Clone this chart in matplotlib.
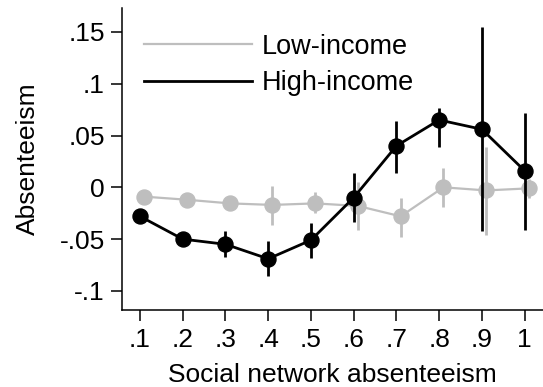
import numpy as np
import matplotlib
matplotlib.use("Agg")
import matplotlib.pyplot as plt

plt.rcParams["font.family"] = ["Liberation Sans", "DejaVu Sans"]

# Binned social network absenteeism (x) and mean own absenteeism with CI
x = np.array([0.1, 0.2, 0.3, 0.4, 0.5, 0.6, 0.7, 0.8, 0.9, 1.0])
xtick_labels = [".1", ".2", ".3", ".4", ".5", ".6", ".7", ".8", ".9", "1"]
yticks = [-0.1, -0.05, 0, 0.05, 0.1, 0.15]
ytick_labels = ["-.1", "-.05", "0", ".05", ".1", ".15"]

low_y = np.array([-0.009, -0.012, -0.0155, -0.017, -0.0155, -0.018, -0.028, 0.000, -0.003, -0.001])
low_lo = np.array([-0.013, -0.016, -0.019, -0.036, -0.025, -0.041, -0.048, -0.019, -0.046, -0.010])
low_hi = np.array([-0.005, -0.008, -0.012, 0.0013, -0.005, 0.005, -0.0105, 0.019, 0.039, 0.008])

high_y = np.array([-0.028, -0.050, -0.055, -0.069, -0.051, -0.010, 0.040, 0.065, 0.056, 0.016])
high_lo = np.array([-0.032, -0.054, -0.067, -0.086, -0.0685, -0.033, 0.014, 0.039, -0.042, -0.041])
high_hi = np.array([-0.024, -0.046, -0.042, -0.052, -0.034, 0.0135, 0.064, 0.077, 0.155, 0.072])

grey = "#bebebe"
dodge = 0.01  # shift low-income points a bit so bars don't overlap

fig = plt.figure(figsize=(5.43, 3.87), dpi=100)
ax = fig.add_axes([0.224, 0.199, 0.776, 0.7796])

ax.errorbar(x + dodge, low_y, yerr=[low_y - low_lo, low_hi - low_y],
            fmt="o-", color=grey, ms=10.8, lw=1.6, elinewidth=2.0,
            capsize=0, label="Low-income", zorder=2)
ax.errorbar(x, high_y, yerr=[high_y - high_lo, high_hi - high_y],
            fmt="o-", color="black", ms=10.8, lw=2.0, elinewidth=2.0,
            capsize=0, label="High-income", zorder=3)

ax.set_xlim(0.057, 1.043)
ax.set_ylim(-0.1184, 0.1728)
ax.set_xticks(x)
ax.set_xticklabels(xtick_labels)
ax.set_yticks(yticks)
ax.set_yticklabels(ytick_labels)

for side in ["top", "right"]:
    ax.spines[side].set_visible(False)
for side in ["left", "bottom"]:
    ax.spines[side].set_linewidth(1.1)
ax.tick_params(axis="both", direction="out", length=8, width=1.1,
               labelsize=19, pad=4)
ax.tick_params(axis="x", pad=5)

ax.set_xlabel("Social network absenteeism", fontsize=19, labelpad=8)
ax.set_ylabel("Absenteeism", fontsize=19, labelpad=14)

# legend shows lines only, no markers or bars
handles, labels = ax.get_legend_handles_labels()
leg_lines = [plt.Line2D([], [], color=grey, lw=1.6),
             plt.Line2D([], [], color="black", lw=2.0)]
ax.legend(leg_lines, labels, loc="upper left", bbox_to_anchor=(0.052, 0.915),
          frameon=False, fontsize=19.5, handlelength=4.0, handletextpad=0.35,
          labelspacing=0.38, borderpad=0, borderaxespad=0)

fig.savefig("out.png", dpi=100)
